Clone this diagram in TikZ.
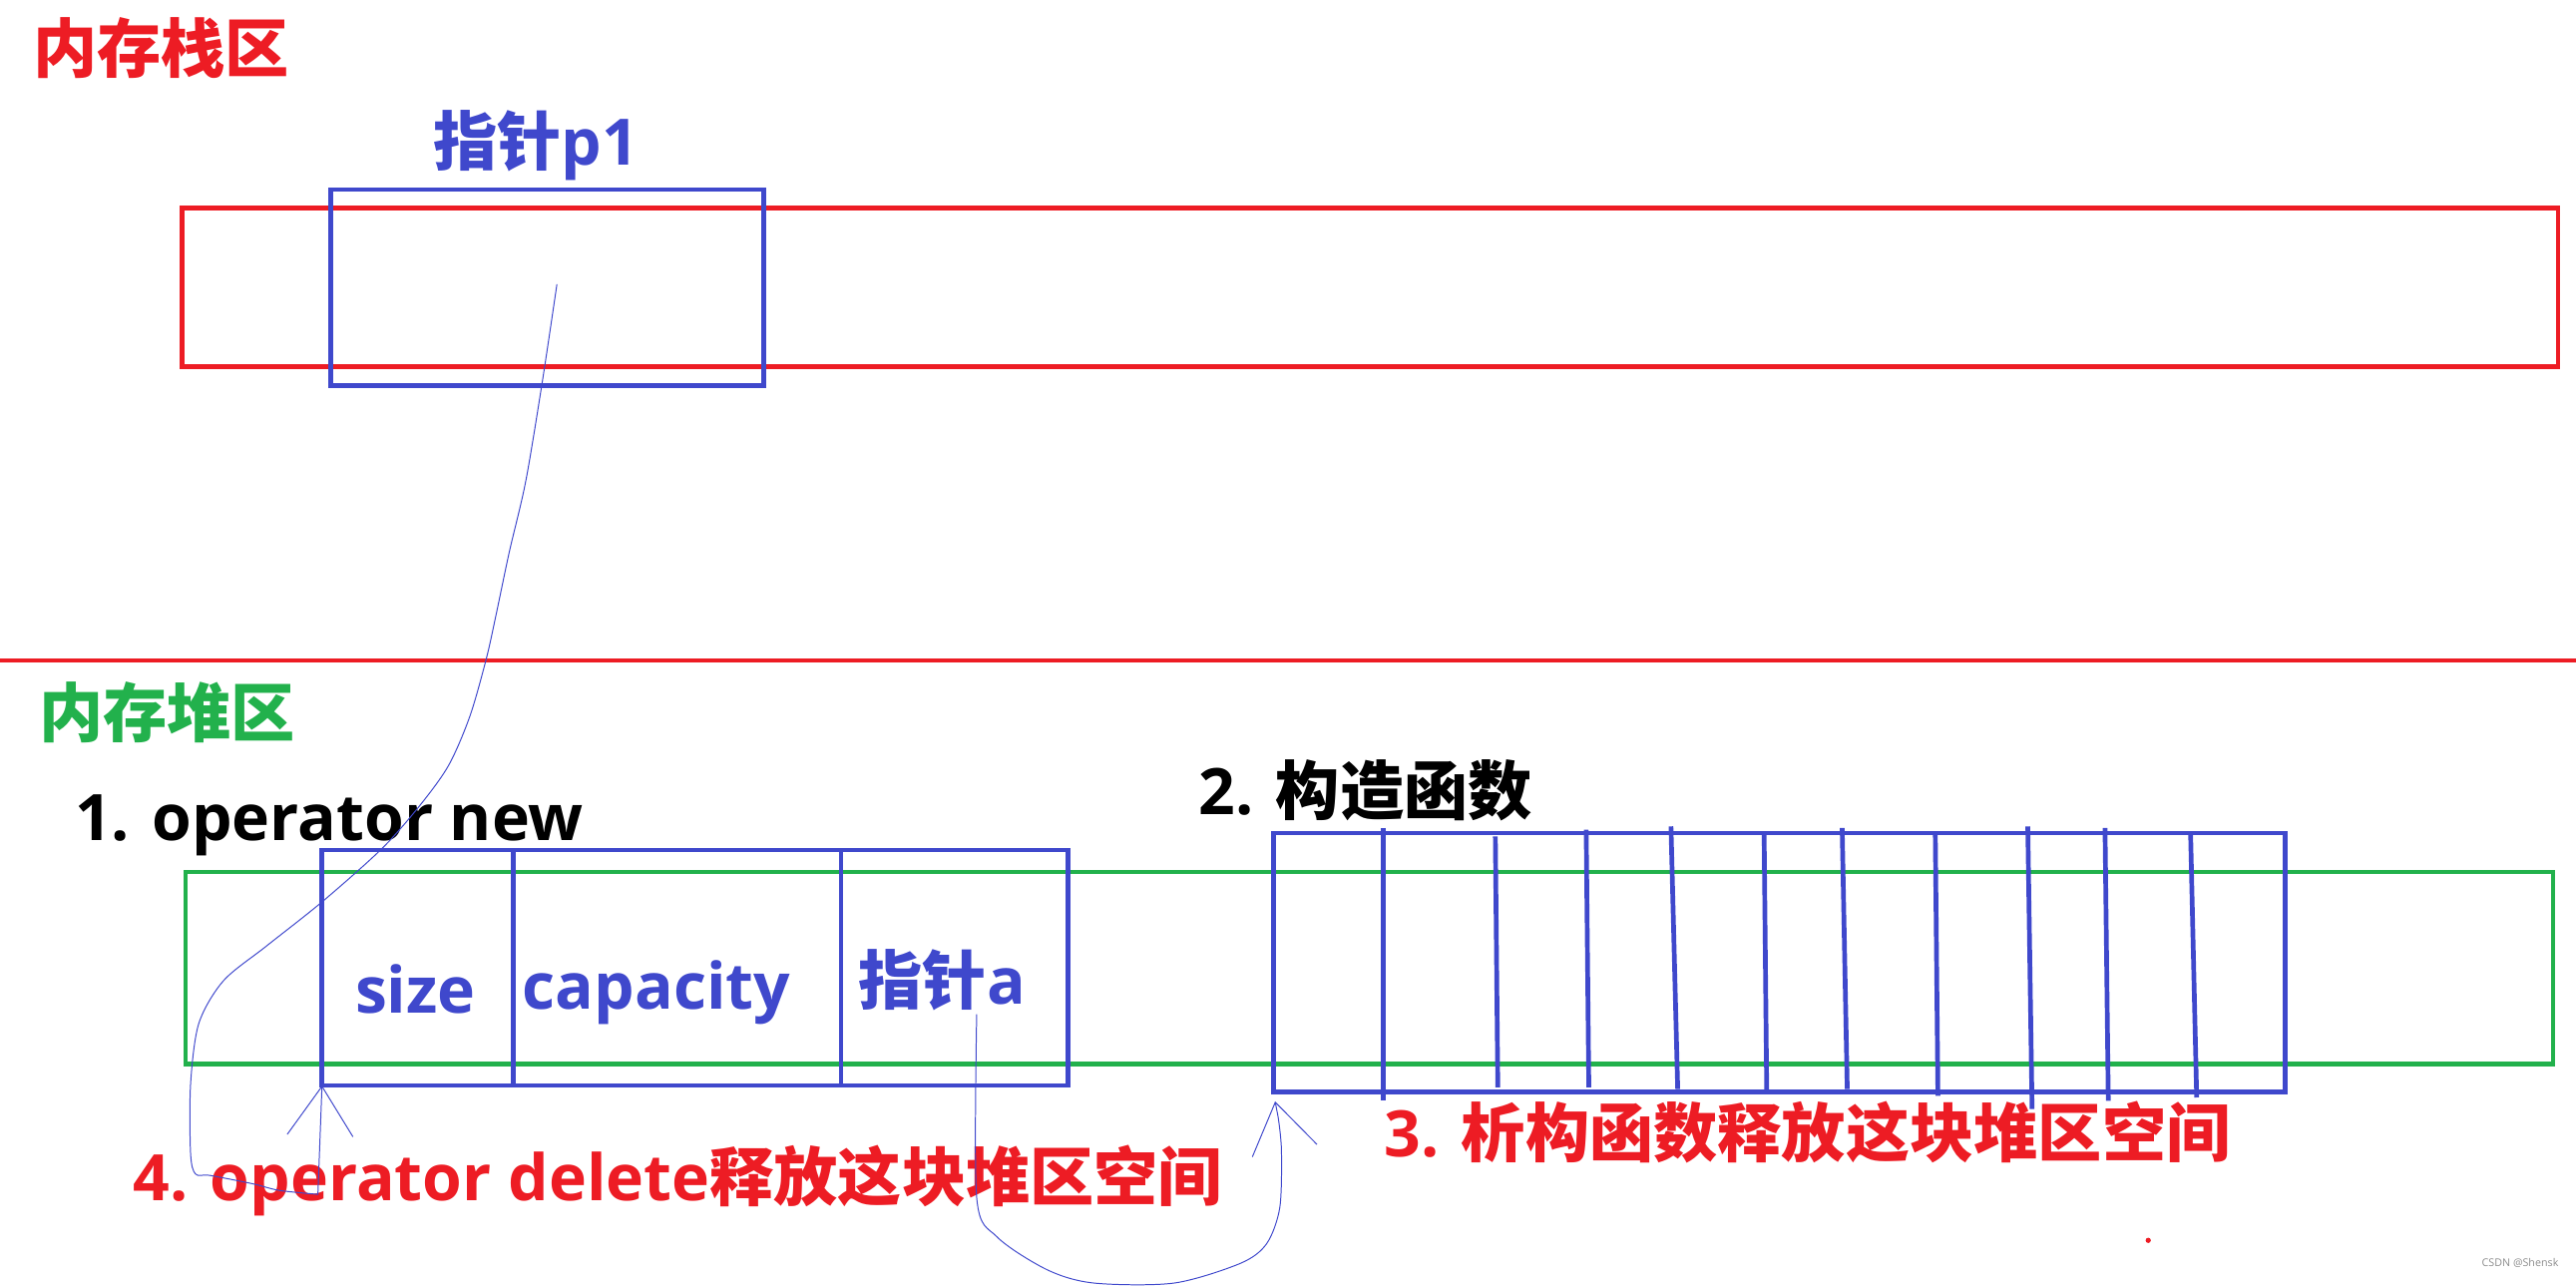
\documentclass[tikz,border=0pt]{standalone}
\usepackage{fontspec}
\setmainfont{Open Sans}
\newfontfamily\cjk{Noto Sans CJK SC}
\usetikzlibrary{arrows.meta,positioning}
\definecolor{paintred}{HTML}{ED1C24}
\definecolor{paintblue}{HTML}{3F48CC}
\definecolor{paintgreen}{HTML}{22B14C}
\newcommand{\zh}[1]{{\cjk\bfseries #1}}
\tikzset{
  every node/.style={font=\bfseries\fontsize{39}{44}\selectfont,inner sep=0},
  box/.style={draw,line width=2.85pt,outer sep=0},
  cell/.style={box,draw=paintblue,minimum height=143.3pt},
  pen/.style={draw=paintblue,line width=.6pt,line join=round,-{Straight Barb[length=30pt,width=40pt]}}
}

\begin{document}
\begin{tikzpicture}[x=1pt,y=-1pt]
  \path[use as bounding box] (0,0) rectangle (1568,783);

  % stack area
  \node[text=paintred,anchor=west] (stacktitle) at (20,29) {\zh{内存栈区}};
  \node[box,draw=paintred,minimum width=1446pt,minimum height=96.5pt] (stack) at (834,174.75) {};
  \node[box,draw=paintblue,minimum width=263.6pt,minimum height=119.4pt] (p1box) at (333.2,175.1) {};
  \node[text=paintblue,anchor=base west] (p1label) at (263.5,100.5) {\zh{指针}p1};
  \coordinate (p1tail) at (339,173);

  \draw[paintred,line width=2.85pt] (0,402) -- (1568,402);

  % heap area
  \node[text=paintgreen,anchor=west] (heaptitle) at (23.5,433.6) {\zh{内存堆区}};
  \node[anchor=base west] (newlabel) at (45.5,511.4) {1. operator new};
  \node[anchor=base west] (ctorlabel) at (729.5,496) {2. \zh{构造函数}};
  \node[box,draw=paintgreen,minimum width=1441pt,minimum height=116.9pt] (heap) at (833.5,589.25) {};

  \node[cell,minimum width=116.3pt] (sizecell) at (254.15,589.05) {};
  \node[cell,minimum width=199.7pt,right=0pt of sizecell] (capcell) {};
  \node[cell,minimum width=138pt,right=0pt of capcell] (ptrcell) {};
  \node[text=paintblue,anchor=base west] (sizelabel) at (216,616.4) {size};
  \node[text=paintblue,anchor=base west] (caplabel) at (318,614) {capacity};
  \node[text=paintblue,anchor=base west] (ptrlabel) at (522.5,611.3) {\zh{指针}a};
  \coordinate (ptrtail) at (594.5,617.4);

  \node[box,draw=paintblue,minimum width=616pt,minimum height=157.5pt] (objblock) at (1083,585.75) {};
  \foreach \xa/\ya/\xb/\yb in {841.8/504/841.8/669.6,910.2/509.1/911.7/661.9,965.5/505/967.1/661.9,
    1017.1/503/1021.2/662.9,1073.8/508.1/1075.4/666,1121.3/504/1124.4/662.9,1178/508.1/1179.6/667,
    1234.3/503/1236.9/675.1,1281.3/504/1283.3/670,1333.4/508.1/1337.1/668}
    {\draw[paintblue,line width=2.85pt] (\xa,\ya) -- (\xb,\yb);}

  \node[text=paintred,anchor=base west] (deletelabel) at (81,730.6) {4. operator delete\zh{释放这块堆区空间}};
  \node[text=paintred,anchor=base west] (dtorlabel) at (842.5,704.4) {3. \zh{析构函数释放这块堆区空间}};
  \fill[paintred] (1307.6,755) circle (1.6pt);
  \node[font=\fontsize{6.5}{8}\selectfont,text=black!45] (mark) at (1534,768.5) {CSDN @Shensk};

  % hand drawn pointer strokes
  \draw[pen] plot[smooth,tension=.5] coordinates {(p1tail) (330,233) (320,293) (310,336) (302,374) (296,401)
    (286,436) (273,466) (255,491) (232,517) (196,549) (162,576) (136,597) (121,623) (116,660) (116,702)
    (119,714.6) (128,715.5) (154,720.6) (170,724.6) (193.5,727)} -- (sizecell.south west);
  \draw[pen,shorten >=6pt] plot[smooth,tension=.5] coordinates {(ptrtail) (594.5,729) (607,753) (637.6,773)
    (666,781) (714.6,781) (755,769) (771,757) (779,735) (780,700) (778,680)} -- (objblock.south west);
\end{tikzpicture}
\end{document}
